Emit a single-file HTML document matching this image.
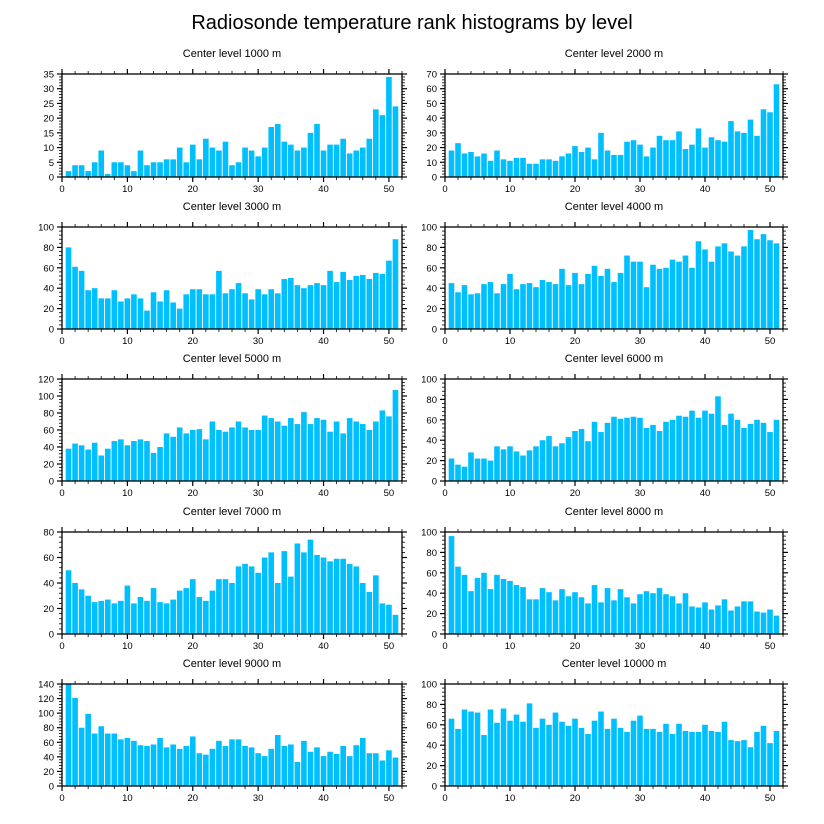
<!DOCTYPE html>
<html><head><meta charset="utf-8"><style>
html,body{margin:0;padding:0;background:#fff;}
svg{display:block;font-family:"Liberation Sans",Arial,sans-serif;}
</style></head><body>
<svg id="chart" width="824" height="824" viewBox="0 0 824 824" xmlns="http://www.w3.org/2000/svg">
<rect width="824" height="824" fill="#fff"/>
<text x="412" y="29" font-size="20" text-anchor="middle" fill="#000">Radiosonde temperature rank histograms by level</text>
</svg>
<script>
const levels = ["1000","2000","3000","4000","5000","6000","7000","8000","9000","10000"];
const yMaxes = [35,70,100,100,120,100,80,100,140,100];
const yMajors = [5,10,20,20,20,20,20,20,20,20];
const xTicks = [0,10,20,30,40,50];
const v1000 = [2,4,4,2,5,9,1,5,5,4,2,9,4,5,5,6,6,10,5,11,6,13,10,9,12,4,5,10,9,7,10,17,18,12,11,9,10,15,18,9,11,11,13,8,9,10,13,23,21,34,24];
const v2000 = [18,23,16,17,14,16,11,18,12,11,13,13,9,9,12,12,11,14,16,21,17,20,12,30,18,15,15,24,25,22,14,20,28,25,25,31,19,22,33,20,27,25,24,38,31,30,39,28,46,44,63];
const v3000 = [80,61,57,38,40,30,30,38,27,30,34,30,18,36,27,38,26,20,34,39,39,34,34,57,35,39,45,35,29,39,34,39,35,49,50,43,40,43,45,43,57,46,56,48,52,53,49,55,54,67,88];
const v4000 = [45,36,43,34,35,44,46,35,44,54,39,44,45,41,48,46,44,59,43,55,44,54,62,52,59,46,55,72,66,66,41,63,59,60,68,66,72,60,86,78,66,81,84,76,72,81,97,88,93,87,84];
const v5000 = [38,44,42,37,45,30,38,47,49,42,47,49,47,33,40,56,52,63,56,60,61,49,70,60,58,63,70,63,60,60,77,74,70,65,74,67,81,67,74,72,58,70,56,74,70,67,60,70,83,76,107];
const v6000 = [22,16,14,28,22,22,20,34,31,34,29,25,30,34,40,44,34,37,43,49,51,39,58,48,57,63,61,62,63,62,52,55,49,58,60,64,63,69,62,69,66,83,55,66,60,52,56,60,57,48,60];
const v7000 = [50,40,35,30,25,26,27,24,26,38,24,29,26,36,25,24,27,34,36,43,29,26,34,43,43,40,53,55,53,48,60,64,40,65,45,71,64,74,62,60,57,59,59,55,53,40,33,46,24,23,15];
const v8000 = [96,66,58,42,55,60,44,58,54,52,48,46,34,34,45,41,33,44,37,41,36,30,48,31,45,33,44,36,30,39,42,40,45,39,37,30,40,27,26,31,24,28,34,23,27,32,32,22,21,24,18];
const v9000 = [140,121,80,99,72,82,72,72,64,66,62,56,55,57,66,53,57,51,55,68,45,43,51,62,55,64,64,55,53,45,41,51,70,55,57,33,62,47,53,41,47,44,55,41,56,66,45,45,35,49,39];
const v10000 = [66,56,75,73,72,50,75,62,76,64,70,63,81,57,66,60,72,63,59,66,57,51,64,73,56,66,57,53,64,69,56,56,53,61,51,61,54,53,53,60,54,53,63,45,44,45,38,53,59,42,54];
const seriesList = [v1000,v2000,v3000,v4000,v5000,v6000,v7000,v8000,v9000,v10000];

const NS = "http://www.w3.org/2000/svg";
const svg = document.getElementById('chart');
function mk(tag, attrs, parent){
  const e = document.createElementNS(NS, tag);
  for (const k in attrs) e.setAttribute(k, attrs[k]);
  parent.appendChild(e);
  return e;
}
const colX = [[62,402],[445,783]];
const rowY = [[74,177],[227,329],[379,481],[532,634],[684,786]];
const X_MAX = 52;

seriesList.forEach((vals, p) => {
  const col = p % 2, row = Math.floor(p / 2);
  const [x0, x1] = colX[col];
  const [yTop, yBot] = rowY[row];
  const yMax = yMaxes[p];
  const xs = v => x0 + (v / X_MAX) * (x1 - x0);
  const ys = v => yBot - (v / yMax) * (yBot - yTop);
  const g = mk('g', {}, svg);
  
  

  const title = mk('text', {x: (x0 + x1) / 2, y: yTop - 17, 'font-size': 11, 'text-anchor': 'middle', fill: '#000'}, g);
  
  
  title.textContent = 'Center level ' + levels[p] + ' m';

  const bw = (x1 - x0) / X_MAX * 0.86;
  vals.forEach((v, i) => {
    const cx = xs(i + 1);
    const r = mk('rect', {x: cx - bw / 2, y: ys(v), width: bw, height: yBot - ys(v), fill: '#00BFFF'}, g);
    
    
  });

  const frame = mk('rect', {x: x0, y: yTop, width: x1 - x0, height: yBot - yTop, fill: 'none', stroke: '#000', 'stroke-width': 1.3}, g);
  
  

  // x ticks (top & bottom, outward)
  for (let t = 0; t <= X_MAX; t += 2) {
    const major = t % 10 === 0;
    const len = major ? 5 : 3;
    const x = xs(t);
    mk('line', {x1: x, x2: x, y1: yBot, y2: yBot + len, stroke: '#000', 'stroke-width': major ? 1.2 : 0.8}, g);
    mk('line', {x1: x, x2: x, y1: yTop, y2: yTop - len, stroke: '#000', 'stroke-width': major ? 1.2 : 0.8}, g);
  }
  xTicks.forEach(t => {
    const lab = mk('text', {x: xs(t), y: yBot + 15, 'font-size': 9.5, 'text-anchor': 'middle', fill: '#000'}, g);
    
    
    lab.textContent = t;
  });
  // y ticks
  const maj = yMajors[p];
  const minor = maj / 5;
  for (let k = 0; k * minor <= yMax + 1e-9; k++) {
    const v = k * minor;
    const major = Math.abs(v / maj - Math.round(v / maj)) < 1e-9;
    const len = major ? 5 : 3;
    const y = ys(v);
    mk('line', {x1: x0, x2: x0 - len, y1: y, y2: y, stroke: '#000', 'stroke-width': major ? 1.2 : 0.8}, g);
    mk('line', {x1: x1, x2: x1 + len, y1: y, y2: y, stroke: '#000', 'stroke-width': major ? 1.2 : 0.8}, g);
    if (major) {
      const lab = mk('text', {x: x0 - 8, y: y + 3.5, 'font-size': 9.5, 'text-anchor': 'end', fill: '#000'}, g);
      
      
      lab.textContent = Math.round(v);
    }
  }
});
</script>
</body></html>
